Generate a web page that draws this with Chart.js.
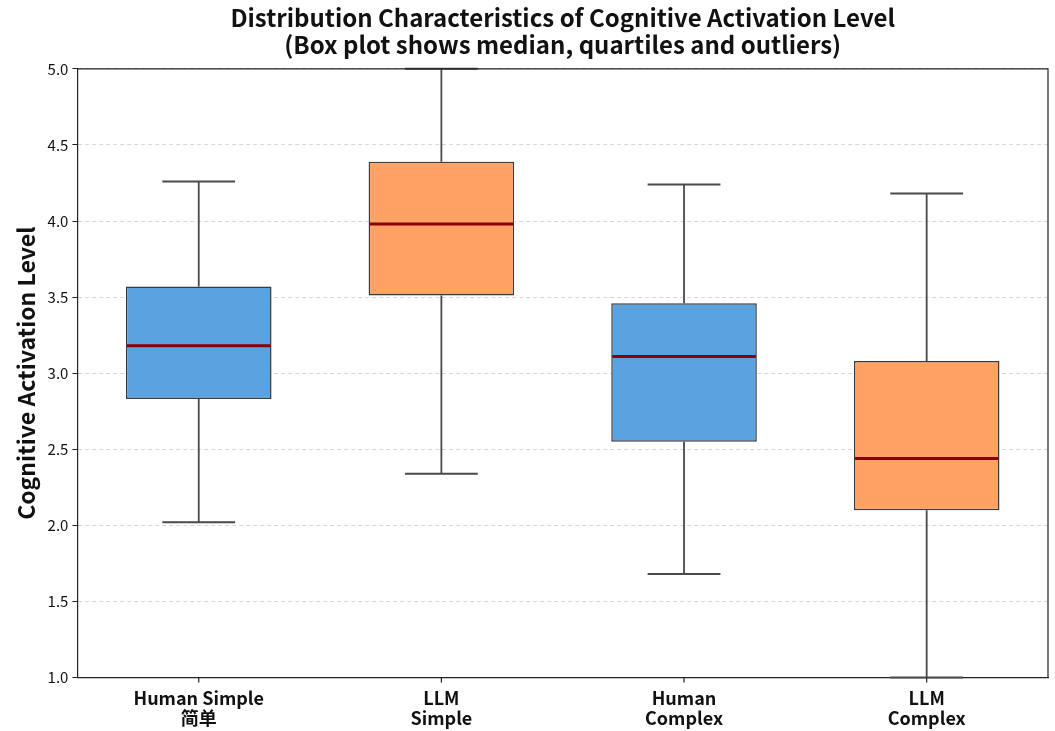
<!DOCTYPE html>
<html>
<head>
<meta charset="utf-8">
<script src="https://cdn.jsdelivr.net/npm/chart.js@4/dist/chart.umd.min.js"></script>
<style>
  body { margin: 0; background: #fff; }
  #wrap { width: 1055px; height: 731px; }
</style>
</head>
<body>
<div id="wrap"><canvas id="chart-area"></canvas></div>
<script>
const groups = [['Human Simple', '简单'], ['LLM', 'Simple'], ['Human', 'Complex'], ['LLM', 'Complex']];
const mins = [2.02, 2.34, 1.68, 1.00];
const q1s = [2.83, 3.51, 2.55, 2.10];
const medians = [3.18, 3.98, 3.11, 2.44];
const q3s = [3.57, 4.39, 3.46, 3.08];
const maxs = [4.26, 5.00, 4.24, 4.18];
const boxColors = ['#5ba3e0', '#ffa263', '#5ba3e0', '#ffa263'];
const yTicks = [1.0, 1.5, 2.0, 2.5, 3.0, 3.5, 4.0, 4.5, 5.0];

const font = "'Noto Sans CJK SC', 'Noto Sans', sans-serif";

// whiskers under the boxes, medians and caps on top
const boxPlot = {
  id: 'boxPlot',
  beforeDatasetsDraw(chart) {
    const ctx = chart.ctx;
    const y = chart.scales.y;
    const meta = chart.getDatasetMeta(0);
    ctx.save();
    ctx.strokeStyle = '#4a4a4a';
    ctx.lineWidth = 1.8;
    for (let i = 0; i < groups.length; i++) {
      const cx = meta.data[i].x;
      ctx.beginPath();
      ctx.moveTo(cx, y.getPixelForValue(maxs[i]));
      ctx.lineTo(cx, y.getPixelForValue(q3s[i]));
      ctx.moveTo(cx, y.getPixelForValue(q1s[i]));
      ctx.lineTo(cx, y.getPixelForValue(mins[i]));
      ctx.stroke();
    }
    ctx.restore();
  },
  afterDatasetsDraw(chart) {
    const ctx = chart.ctx;
    const y = chart.scales.y;
    const meta = chart.getDatasetMeta(0);
    ctx.save();
    for (let i = 0; i < groups.length; i++) {
      const bar = meta.data[i];
      const cx = bar.x;
      const half = bar.width / 2;
      const capHalf = bar.width / 4;
      ctx.strokeStyle = '#4a4a4a';
      ctx.lineWidth = 2;
      ctx.beginPath();
      ctx.moveTo(cx - capHalf, y.getPixelForValue(maxs[i]));
      ctx.lineTo(cx + capHalf, y.getPixelForValue(maxs[i]));
      ctx.moveTo(cx - capHalf, y.getPixelForValue(mins[i]));
      ctx.lineTo(cx + capHalf, y.getPixelForValue(mins[i]));
      ctx.stroke();
      ctx.strokeStyle = '#8b0000';
      ctx.lineWidth = 3;
      ctx.beginPath();
      ctx.moveTo(cx - half + 1, y.getPixelForValue(medians[i]));
      ctx.lineTo(cx + half - 1, y.getPixelForValue(medians[i]));
      ctx.stroke();
    }
    // frame top and right, ticks under each category
    const a = chart.chartArea;
    ctx.strokeStyle = '#222';
    ctx.lineWidth = 1.2;
    ctx.beginPath();
    ctx.moveTo(a.left, a.top);
    ctx.lineTo(a.right, a.top);
    ctx.lineTo(a.right, a.bottom);
    for (let i = 0; i < groups.length; i++) {
      const tx = chart.scales.x.getPixelForValue(i);
      ctx.moveTo(tx, a.bottom);
      ctx.lineTo(tx, a.bottom + 5);
    }
    ctx.stroke();
    ctx.restore();
  }
};

const ctx = document.getElementById('chart-area').getContext('2d');
const config = {
  type: 'bar',
  data: {
    labels: groups,
    datasets: [{
      data: q1s.map((q, i) => [q, q3s[i]]),
      backgroundColor: boxColors,
      borderColor: '#3a3a3a',
      borderWidth: 1.5,
      borderSkipped: false,
      categoryPercentage: 0.6,
      barPercentage: 1.0
    }]
  },
  options: {
    responsive: true,
    maintainAspectRatio: false,
    animation: false,
    layout: { padding: { top: 3, right: 7, bottom: 0, left: 12 } },
    plugins: {
      legend: { display: false },
      tooltip: { enabled: false },
      title: {
        display: true,
        fullSize: false,
        text: ['Distribution Characteristics of Cognitive Activation Level', '(Box plot shows median, quartiles and outliers)'],
        color: '#111',
        font: { family: font, size: 24, weight: 'bold', lineHeight: 1.1 },
        padding: { top: 2, bottom: 11 }
      }
    },
    scales: {
      x: {
        grid: { display: false },
        border: { display: true, color: '#222', width: 1.2 },
        ticks: { color: '#111', font: { family: font, size: 18, weight: 'bold', lineHeight: 1.15 }, padding: 2 }
      },
      y: {
        min: 1,
        max: 5,
        afterBuildTicks(scale) { scale.ticks = yTicks.map(v => ({ value: v })); },
        grid: { color: '#d6d6d6', lineWidth: 1, tickLength: 5, tickColor: '#222', tickBorderDash: [] },
        border: { display: true, color: '#222', width: 1.2, dash: [4, 3] },
        ticks: {
          color: '#111',
          font: { family: font, size: 15 },
          padding: 4,
          callback: v => Number(v).toFixed(1)
        },
        title: {
          display: true,
          text: 'Cognitive Activation Level',
          color: '#111',
          font: { family: font, size: 23, weight: 'bold' },
          padding: { top: 0, bottom: 4 }
        }
      }
    }
  },
  plugins: [boxPlot]
};
window.myBox = new Chart(ctx, config);
</script>
</body>
</html>
